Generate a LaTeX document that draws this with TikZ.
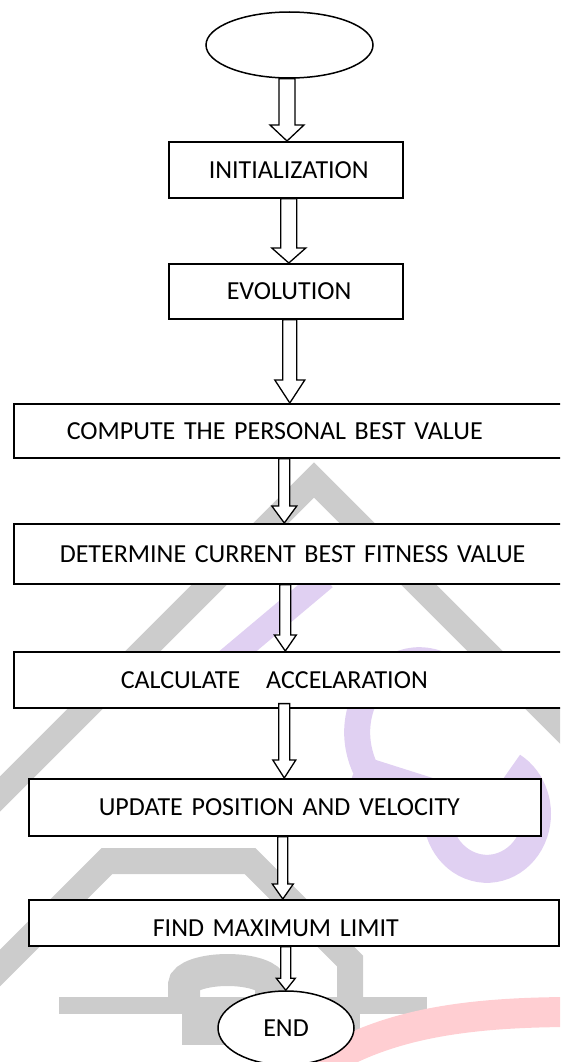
\documentclass[tikz,border=0pt]{standalone}
\usepackage{fontspec}
\setmainfont{Carlito}
\usetikzlibrary{shapes.geometric,calc}

\definecolor{wmgray}{RGB}{204,204,204}
\definecolor{wmlilac}{RGB}{224,208,242}
\definecolor{wmpink}{RGB}{255,206,210}

\tikzset{
  stage/.style={draw, fill=white, line width=1.6pt, inner xsep=0pt, inner ysep=0pt,
    align=left, anchor=north west, font=\fontsize{26pt}{30pt}\selectfont},
  term/.style={ellipse, draw, fill=white, line width=1.5pt, inner sep=0pt,
    font=\fontsize{26pt}{30pt}\selectfont},
  % hollow block arrow: shaft half width, head half width, head length
  hollow/.style n args={3}{draw, fill=white, line width=1.3pt, line join=miter,
    to path={let \p1=(\tikztostart), \p2=(\tikztotarget) in
      ({\x1-#1pt},\y1) -- ({\x1-#1pt},{\y2+#3pt}) -- ({\x1-#2pt},{\y2+#3pt})
      -- (\x1,\y2) -- ({\x1+#2pt},{\y2+#3pt}) -- ({\x1+#1pt},{\y2+#3pt})
      -- ({\x1+#1pt},\y1) -- cycle}},
}

\begin{document}
\begin{tikzpicture}[x=1pt,y=-1pt]
\useasboundingbox (0,0) rectangle (560,1062);
\clip (0,0) rectangle (560,1062);

% background mark
\draw [wmgray, line width=25pt] (-10,804) -- (314,480) -- (580,746);
\draw [wmgray, line width=26pt, line join=miter] (-10,978) -- (107,861) -- (250,861) -- (350,961) -- (350,1005);
\draw [wmgray, line width=32pt] (184,1005) -- (184,985) arc[x radius=43.5, y radius=15, start angle=180, end angle=360] -- (271,1005);
\fill [wmgray] (59,997) rectangle (427,1014);
\fill [wmgray] (182,1012) rectangle (360,1045);
\draw [wmlilac, line width=24pt] (225,662) -- (325,578);
\draw [wmlilac, line width=26pt] (365,768) .. controls (330,690) and (420,610) .. (480,700);
\draw [wmlilac, line width=28pt] (355,768) -- (440,795) arc[x radius=50, y radius=55, start angle=200, end angle=-60];
\draw [wmpink, line width=30pt] (300,1080) .. controls (370,1025) and (460,1012) .. (575,1012);

% flow
\node (start) at (289.5,45) [term, minimum width=167pt, minimum height=66pt] {};
\node (init) at (168,141) [stage, text width=234pt, minimum height=56pt] {\hspace*{40pt}INITIALIZATION};
\node (evol) at (168,263) [stage, text width=234pt, minimum height=55pt] {\hspace*{58pt}EVOLUTION};
\node (comp) at (13,403) [stage, text width=570pt, minimum height=54pt] {\hspace*{53pt}COMPUTE THE PERSONAL BEST VALUE};
\node (det) at (13,523) [stage, text width=570pt, minimum height=60pt] {\hspace*{46pt}DETERMINE CURRENT BEST FITNESS VALUE};
\node (calc) at (13,651) [stage, text width=570pt, minimum height=56pt] {\hspace*{107pt}CALCULATE\ \ \ ACCELARATION};
\node (upd) at (28,778) [stage, text width=512pt, minimum height=57pt] {\hspace*{70pt}UPDATE POSITION AND VELOCITY};
\node (find) at (28,899) [stage, text width=530pt, minimum height=46pt, text height=27pt, text depth=0pt] {\hspace*{124pt}FIND MAXIMUM LIMIT};
\node (end) at (286,1028) [term, minimum width=136pt, minimum height=74pt] {END};

\draw [hollow={8}{17}{16}] ([xshift=-2.5pt]start.south) to (init.north);
\draw [hollow={8}{17}{15}] ([xshift=3pt]init.south) to (evol.north);
\draw [hollow={7}{15}{23}] ([xshift=4pt]evol.south) to (comp.north);
\draw [hollow={5.5}{12.5}{17}] ([xshift=-14.5pt]comp.south) to (det.north);
\draw [hollow={5.5}{11}{16}] ([xshift=-13.5pt]det.south) to (calc.north);
\draw [hollow={5.5}{11.5}{18}] ([xshift=-14.5pt,yshift=5pt]calc.south) to (upd.north);
\draw [hollow={5}{10.5}{15}] ([xshift=-2pt]upd.south) to (find.north);
\draw [hollow={5}{9.5}{12}] ([xshift=-8pt]find.south) to (end.north);
\end{tikzpicture}
\end{document}
